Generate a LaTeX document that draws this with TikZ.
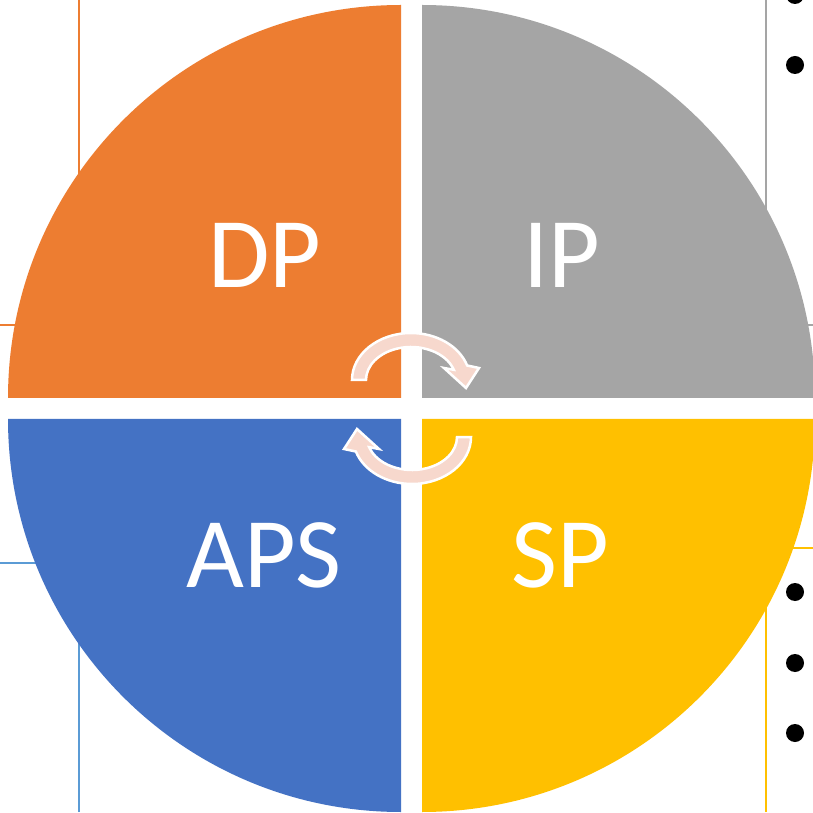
\documentclass[tikz,border=0pt]{standalone}
\usepackage{fontspec}
\setmainfont{Carlito}
\definecolor{qorange}{HTML}{ED7D31}
\definecolor{qgray}{HTML}{A5A5A5}
\definecolor{qblue}{HTML}{4472C4}
\definecolor{qyellow}{HTML}{FFC000}
\definecolor{lblue}{HTML}{5B9BD5}
\definecolor{arrowpink}{RGB}{247,216,205}
\begin{document}
\begin{tikzpicture}[x=1pt,y=1pt,
  bgline/.style={line width=1.6pt},
  lbl/.style={text=white,font=\fontsize{100}{100}\selectfont,inner sep=0pt,anchor=base},
  cyclearrow/.style={fill=arrowpink,draw=white,line width=2.5pt,line join=miter},
  bullet/.style={fill=black}]
\useasboundingbox (0,0) rectangle (813,812);
\fill[white] (0,0) rectangle (813,812);
% background frame lines
\draw[bgline,qorange] (79,812) -- (79,420);
\draw[bgline,qorange] (0,487) -- (60,487);
\draw[bgline,qgray] (766,812) -- (766,420);
\draw[bgline,qgray] (760,487) -- (813,487);
\draw[bgline,lblue] (0,249) -- (80,249);
\draw[bgline,lblue] (79,0) -- (79,240);
\draw[bgline,qyellow] (760,264) -- (813,264);
\draw[bgline,qyellow] (766,0) -- (766,264);
% bullets
\fill[bullet] (795,817) circle (9);
\fill[bullet] (795,747) circle (9);
\fill[bullet] (795,220) circle (9);
\fill[bullet] (795,149) circle (9);
\fill[bullet] (795,79) circle (9);
% quadrants
\fill[qorange] (401,414) -- ++(-393,0) arc[start angle=180,end angle=90,radius=393] -- cycle;
\fill[qgray] (422,414) -- ++(0,393) arc[start angle=90,end angle=0,radius=393] -- cycle;
\fill[qblue] (401,393) -- ++(-393,0) arc[start angle=180,end angle=270,radius=393] -- cycle;
\fill[qyellow] (422,393) -- ++(393,0) arc[start angle=0,end angle=-90,radius=393] -- cycle;
% labels
\node[lbl] (dp) at (265,524) {DP};
\node[lbl] (ip) at (562,524) {IP};
\node[lbl] (aps) at (264,225) {APS};
\node[lbl] (sp) at (560,225) {SP};
% cycle arrows
\path[cyclearrow] (352,432) arc[start angle=180,end angle=18,x radius=59,y radius=47]
  -- (479,444) -- (466,424) -- (444,444)
  -- (453.8,442.2) arc[start angle=18,end angle=180,x radius=45,y radius=33] -- cycle;
\begin{scope}[rotate around={180:(411.5,403.5)}]
\path[cyclearrow] (352,432) arc[start angle=180,end angle=18,x radius=59,y radius=47]
  -- (479,444) -- (466,424) -- (444,444)
  -- (453.8,442.2) arc[start angle=18,end angle=180,x radius=45,y radius=33] -- cycle;
\end{scope}
\end{tikzpicture}
\end{document}
